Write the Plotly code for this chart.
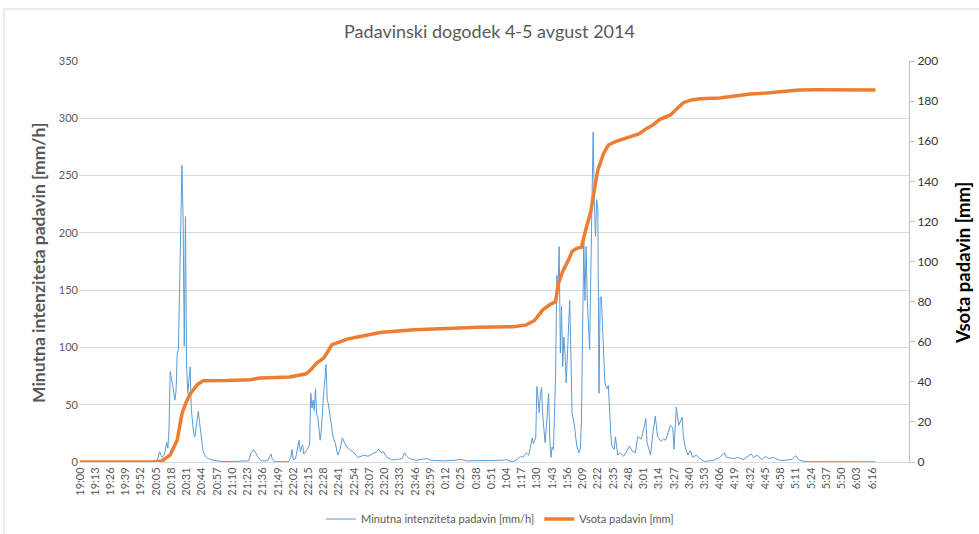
import plotly.graph_objects as go

# ---- data (minutes after 19:00) ----
TICK_LABELS = ["19:00","19:13","19:26","19:39","19:52","20:05","20:18","20:31","20:44","20:57",
               "21:10","21:23","21:36","21:49","22:02","22:15","22:28","22:41","22:54","23:07",
               "23:20","23:33","23:46","23:59","0:12","0:25","0:38","0:51","1:04","1:17",
               "1:30","1:43","1:56","2:09","2:22","2:35","2:48","3:01","3:14","3:27",
               "3:40","3:53","4:06","4:19","4:32","4:45","4:58","5:11","5:24","5:37",
               "5:50","6:03","6:16"]
TICK_STEP_MIN = 13

INT_MIN = [0, 60, 64, 66, 68, 70, 72, 74, 75, 76, 77, 79, 80, 81, 82, 83, 84, 85, 86, 87, 88, 89, 90,
           91, 92, 93, 94, 95, 96, 97, 98, 99, 101, 102, 104, 105, 107, 109, 112, 116, 120, 130, 140,
           144, 146, 148, 150, 152, 155, 160, 162, 163, 164, 166, 178, 180, 181, 182, 184, 186, 187,
           188, 190, 191, 194, 196, 197, 198, 199, 200, 201, 202, 203, 205, 206, 208, 209, 210, 211,
           212, 214, 216, 218, 220, 222, 224, 227, 230, 233, 237, 240, 242, 246, 250, 253, 255, 257,
           259, 262, 266, 270, 275, 277, 279, 281, 287, 292, 296, 300, 310, 320, 325, 330, 340, 350,
           360, 364, 368, 370, 373, 376, 378, 381, 383, 384, 386, 387, 388, 389, 390, 391, 392, 393,
           394, 395, 397, 398, 400, 401, 402, 403, 404, 405, 406, 407, 408, 409, 410, 411, 412, 413,
           414, 415, 416, 417, 418, 419, 420, 422, 424, 426, 427, 428, 429, 430, 431, 432, 433, 434,
           435, 436, 437, 438, 439, 440, 441, 442, 443, 444, 445, 446, 447, 448, 449, 450, 451, 452,
           453, 454, 456, 457, 458, 459, 461, 464, 466, 469, 471, 474, 476, 479, 481, 483, 484, 487,
           489, 491, 493, 496, 498, 500, 504, 506, 507, 509, 511, 514, 515, 517, 519, 521, 523, 526,
           529, 533, 541, 546, 550, 552, 558, 562, 566, 571, 573, 575, 578, 582, 585, 588, 592, 597,
           603, 608, 611, 614, 620, 679]
INT_VAL = [0, 0, 0.5, 2, 9, 4, 6, 17, 12, 30, 79, 68, 60, 54, 62, 95, 98, 150, 201, 259, 214, 101, 214,
           83, 60, 75, 83, 46, 35, 25, 22, 30, 44, 35, 19, 10, 5, 3, 2, 1, 0.5, 0.5, 0.5,
           1, 8, 11, 8, 4, 1, 1, 5, 7, 3, 0.3, 0.3, 4, 11, 2, 3, 12, 19,
           9, 15, 7, 11, 15, 60, 47, 54, 45, 64, 42, 39, 19, 28, 60, 70, 85, 54,
           51, 36, 22, 16, 6, 11, 21, 14, 11, 9, 4, 5, 6, 5, 7, 9, 11, 8,
           9, 4, 2, 2, 3, 8, 5, 3, 1.5, 2, 3, 1.5, 1, 1.5, 2.3, 1, 1, 1,
           1.5, 2, 0.5, 0.5, 2, 5, 4, 8, 6, 11, 21, 16, 18, 21, 66, 50, 43, 60,
           65, 40, 17, 29, 60, 20, 4, 13, 11, 40, 78, 163, 150, 188, 95, 136, 83, 109,
           95, 69, 90, 107, 141, 95, 43, 32, 14, 8, 11, 35, 98, 194, 141, 188, 141, 120,
           98, 164, 217, 288, 226, 197, 229, 220, 60, 144, 144, 120, 101, 69, 66, 64, 67, 40,
           25, 14, 11, 22, 15, 6, 8, 5, 8, 14, 10, 8, 22, 20, 28, 38, 17, 6,
           25, 40, 22, 18, 20, 19, 32, 30, 11, 48, 32, 39, 22, 11, 6, 10, 4, 6,
           3, 0.5, 1.5, 4, 8, 4, 3, 4, 2, 6, 7, 4, 6, 2, 5, 3, 4, 1.5,
           1.5, 2.5, 5.5, 1.5, 0.3, 0.2]

SUM_MIN = [0, 62, 70, 77, 83, 87, 90, 94, 100, 105, 125, 145, 154, 179, 193, 197, 202, 208, 212, 215,
           219, 228, 239, 256, 285, 313, 341, 370, 381, 388, 395, 401, 406, 408, 412, 417, 420, 424,
           428, 432, 436, 440, 442, 447, 451, 457, 467, 477, 484, 489, 495, 504, 509, 515, 522, 529,
           546, 572, 586, 614, 630, 679]
SUM_VAL = [0, 0, 0.5, 3.6, 11, 24, 29, 34, 38.5, 40.5, 40.6, 41, 41.9, 42.4, 44, 46, 49.3, 51.8, 55.5, 58.5,
           59.3, 61.3, 62.6, 64.6, 65.9, 66.7, 67.2, 67.5, 68.4, 70.6, 75.9, 78.4, 80, 88.4, 95, 100.8, 105, 106.6,
           107.1, 116.6, 124.9, 139, 145.7, 154, 158.1, 159.8, 161.5, 163.6, 166.5, 168.1, 170.9, 173.1, 175.9, 179.2, 180.6, 181.2,
           181.6, 183.5, 184, 185.5, 185.6, 185.5]

TITLE = "Padavinski dogodek 4-5 avgust 2014"
NAME_INT = "Minutna intenziteta padavin [mm/h]"
NAME_SUM = "Vsota padavin [mm]"

FONT = "Lato, 'Open Sans', sans-serif"
GRAY = "#595959"

tickvals = [i * TICK_STEP_MIN for i in range(len(TICK_LABELS))]

fig = go.Figure()
fig.add_trace(go.Scatter(x=INT_MIN, y=INT_VAL, mode="lines", name=NAME_INT,
                         line=dict(color="#5b9bd5", width=1)))
fig.add_trace(go.Scatter(x=SUM_MIN, y=SUM_VAL, mode="lines", name=NAME_SUM, yaxis="y2",
                         line=dict(color="#ed7d31", width=3.5)))

W, H = 979, 534
L, R, T, B = 79, 70, 61, 72
pw, ph = W - L - R, H - T - B

def px(x):
    return (x - L) / pw

def py(y):
    return (H - B - y) / ph

fig.update_layout(
    width=W, height=H,
    margin=dict(l=L, r=R, t=T, b=B, autoexpand=False),
    paper_bgcolor="white", plot_bgcolor="white",
    font=dict(family=FONT, color=GRAY, size=11),
    title=dict(text=TITLE, x=0.5, xanchor="center", y=1 - 32 / H, yanchor="middle",
               font=dict(family=FONT, size=18, color=GRAY)),
    showlegend=True,
    legend=dict(orientation="h", x=px(500), xanchor="center", y=py(519), yanchor="middle",
                font=dict(family=FONT, size=11, color=GRAY), itemwidth=30,
                bgcolor="rgba(0,0,0,0)"),
    xaxis=dict(range=[-0.85, 707.6], tickmode="array", tickvals=tickvals, ticktext=TICK_LABELS,
               tickangle=-90, tickfont=dict(size=11, color=GRAY), showgrid=False, automargin=False,
               showline=True, linecolor="#d9d9d9", linewidth=1, ticks="", zeroline=False),
    yaxis=dict(range=[0, 350], dtick=50, showgrid=True, gridcolor="#d9d9d9", gridwidth=1,
               automargin=False,
               zeroline=False, showline=False, ticks="", tickfont=dict(size=11, color=GRAY)),
    yaxis2=dict(range=[0, 200], dtick=20, overlaying="y", side="right", showgrid=False,
                automargin=False,
                zeroline=False, showline=True, linecolor="#bfbfbf", linewidth=1,
                ticks="outside", ticklen=5, tickcolor="#bfbfbf",
                tickfont=dict(size=12, color="#333333")),
    annotations=[
        dict(text=NAME_INT, x=px(38), y=py(263), xref="paper", yref="paper", showarrow=False,
             textangle=-90, font=dict(family=FONT, size=17.5, color=GRAY, weight="bold"),
             xanchor="center", yanchor="middle"),
        dict(text=NAME_SUM, x=px(963), y=py(263), xref="paper", yref="paper", showarrow=False,
             textangle=-90, font=dict(family=FONT, size=18.5, color="#000000", weight="bold"),
             xanchor="center", yanchor="middle"),
    ],
    shapes=[dict(type="rect", xref="paper", yref="paper", x0=px(4), x1=px(995), y0=py(9), y1=py(545),
                 line=dict(color="#d9d9d9", width=1), fillcolor="rgba(0,0,0,0)", layer="below")],
)

fig.write_html("out.html", config={"displayModeBar": False},
               post_script="document.body.style.margin='0';document.body.style.overflow='hidden';")
